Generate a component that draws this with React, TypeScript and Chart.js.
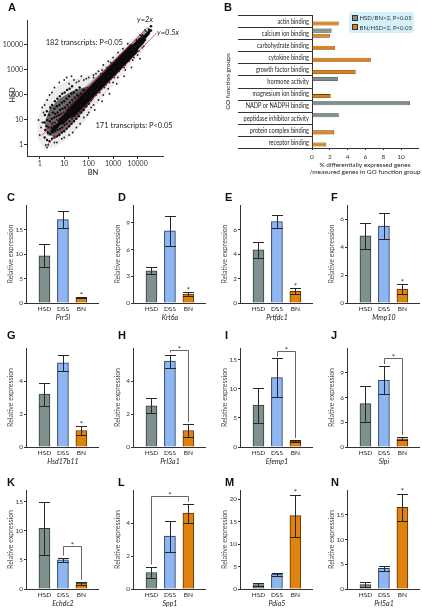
import React, { useEffect, useRef } from 'react';
import { Chart, registerables } from 'chart.js';

Chart.register(...registerables);

const FONT = "Lato, 'Liberation Sans', Arial, sans-serif";
const BOLD = "'Liberation Sans', Arial, sans-serif";

// ---------------- Panel A: scatter ----------------
// dense ridge of the cloud (BN, HSD) end points
const ridgeWide = [[20, 21], [6300, 6500]];
const ridgeMid = [[8, 9], [14000, 14500]];
const ridgeThin = [[3.2, 3.6], [28000, 30000]];
// envelopes of the point cloud, as [log10 BN, log10 HSD]
const haloEnvelopeLog = [
  [-0.1, 0.3], [0.15, -0.15], [0.6, -0.1], [1.2, 0.3], [1.8, 0.9], [2.4, 1.7], [3.0, 2.4], [3.6, 3.1],
  [4.1, 3.6], [4.45, 4.2], [4.55, 4.6], [4.45, 4.75], [4.1, 4.5], [3.6, 4.1], [3.0, 3.55], [2.4, 3.0],
  [1.8, 2.7], [1.2, 2.6], [0.6, 2.3], [0.15, 1.7], [-0.1, 1.0], [-0.1, 0.3],
];
const lobeEnvelopeLog = [
  [0.3, 0.4], [0.7, 0.3], [1.2, 0.7], [1.7, 1.25], [2.2, 1.85], [2.3, 2.4], [1.8, 2.3], [1.3, 2.15],
  [0.8, 1.85], [0.4, 1.45], [0.2, 0.9], [0.3, 0.4],
];
const bandEnvelopeLog = [
  [1.5, 1.1], [2.5, 2.15], [3.5, 3.2], [4.3, 4.1], [4.45, 4.45], [4.3, 4.6], [3.5, 3.85], [2.5, 2.9],
  [1.5, 2.0], [1.5, 1.1],
];
// individual transcripts, as [log10 BN, log10 HSD]
const cloudTipLog = [[4.38, 4.42], [4.44, 4.5], [4.5, 4.56], [4.47, 4.62], [4.55, 4.58], [4.55, 4.75], [4.3, 4.2], [4.2, 4.38]];
const cloudLobeLog = [
  [0.2, 0.3], [0.22, 0.6], [0.18, 0.9], [0.21, 1.2],
  [0.3, 0.2], [0.33, 0.5], [0.28, 0.75], [0.31, 1.0], [0.29, 1.35],
  [0.4, 0.15], [0.42, 0.45], [0.38, 0.7], [0.41, 0.95], [0.39, 1.2], [0.43, 1.5],
  [0.5, 0.25], [0.52, 0.5], [0.48, 0.7], [0.51, 0.85], [0.49, 1.05], [0.53, 1.3], [0.5, 1.6],
  [0.6, 0.3], [0.62, 0.55], [0.58, 0.75], [0.61, 0.9], [0.59, 1.1], [0.63, 1.25], [0.6, 1.45], [0.62, 1.75],
  [0.7, 0.35], [0.72, 0.6], [0.68, 0.8], [0.71, 1.0], [0.69, 1.15], [0.73, 1.3], [0.7, 1.55], [0.72, 1.85],
  [0.8, 0.4], [0.82, 0.65], [0.78, 0.85], [0.81, 1.05], [0.79, 1.2], [0.83, 1.4], [0.8, 1.6], [0.82, 1.95],
  [0.9, 0.5], [0.92, 0.7], [0.88, 0.9], [0.91, 1.1], [0.89, 1.25], [0.93, 1.45], [0.9, 1.7], [0.92, 2.05],
  [1.0, 0.55], [1.02, 0.8], [0.98, 0.95], [1.01, 1.15], [0.99, 1.3], [1.03, 1.5], [1.0, 1.75], [1.02, 2.1],
  [1.1, 0.65], [1.12, 0.85], [1.08, 1.05], [1.11, 1.2], [1.09, 1.4], [1.13, 1.6], [1.1, 1.85], [1.12, 2.2],
  [1.2, 0.75], [1.22, 0.95], [1.18, 1.1], [1.21, 1.3], [1.19, 1.5], [1.23, 1.7], [1.2, 1.95], [1.22, 2.25],
  [1.3, 0.85], [1.32, 1.05], [1.28, 1.2], [1.31, 1.4], [1.29, 1.6], [1.33, 1.8], [1.3, 2.05], [1.32, 2.35],
  [1.4, 0.95], [1.42, 1.15], [1.38, 1.3], [1.41, 1.5], [1.39, 1.7], [1.43, 1.9], [1.4, 2.1],
  [1.5, 1.05], [1.52, 1.25], [1.48, 1.4], [1.51, 1.6], [1.49, 1.8], [1.53, 2.0], [1.5, 2.2],
  [1.6, 1.15], [1.62, 1.35], [1.58, 1.55], [1.61, 1.75], [1.59, 1.95], [1.63, 2.3],
  [1.7, 1.3], [1.72, 1.45], [1.68, 1.65], [1.71, 1.85], [1.69, 2.05],
  [1.8, 1.4], [1.82, 1.6], [1.78, 1.8], [1.81, 2.0], [1.79, 2.2],
  [1.9, 1.55], [1.92, 1.7], [1.88, 1.9], [1.91, 2.1],
  [2.0, 1.65], [2.02, 1.85], [1.98, 2.25], [2.1, 1.8], [2.12, 2.35],
];
const cloudSparseLog = [
  [0.0, 0.4], [0.1, 0.9], [0.2, 1.6], [0.25, 0.0], [0.15, 1.3], [0.4, 2.0], [0.6, 2.3], [0.8, 2.5],
  [1.0, 2.6], [1.2, 2.45], [1.4, 2.6], [1.6, 2.55], [1.8, 2.6], [2.0, 2.7], [2.2, 2.8], [2.4, 2.95],
  [2.6, 3.2], [2.8, 3.35], [3.0, 3.5], [3.2, 3.7], [3.4, 3.85], [3.6, 4.05], [0.6, 0.1], [0.9, 0.25],
  [1.2, 0.4], [1.5, 0.7], [1.8, 1.1], [2.0, 1.3], [2.2, 1.6], [2.4, 1.8], [2.6, 2.0], [2.8, 2.25],
  [3.0, 2.5], [3.2, 2.7], [3.5, 3.0], [3.8, 3.4], [4.0, 3.6], [2.3, 2.0], [2.5, 2.85], [2.7, 2.4],
  [2.9, 3.3], [3.1, 2.8], [3.3, 3.6], [3.5, 3.2], [3.7, 4.0], [3.9, 3.65], [4.1, 4.4], [4.2, 3.9],
  [4.3, 4.6], [4.45, 4.6], [1.9, 2.65], [2.1, 1.5], [0.3, -0.1], [-0.05, 1.0],
  [2.2, 2.7], [2.3, 2.85], [2.45, 2.1], [2.55, 3.0], [2.65, 2.3], [2.75, 3.1], [2.85, 2.5], [2.95, 3.25],
  [3.05, 2.7], [3.15, 3.4], [3.25, 2.95], [3.35, 3.55], [3.45, 3.1], [3.55, 3.8], [3.65, 3.35], [3.75, 3.95],
  [3.85, 3.5], [3.95, 4.2], [4.05, 3.75], [4.15, 4.35], [4.25, 3.95], [4.35, 4.55], [1.1, 2.7], [1.3, 2.75],
  [1.5, 2.5], [1.7, 2.75], [0.5, 2.1], [0.3, 1.8], [0.1, 1.5], [0.05, 0.7], [0.35, 0.0], [0.7, 0.1],
  [1.0, 0.3], [1.35, 0.5], [1.65, 0.85], [1.95, 1.2], [2.25, 1.4], [2.55, 1.75], [2.85, 2.05], [3.15, 2.45],
  [3.45, 2.75], [3.75, 3.1], [4.1, 3.45], [2.35, 2.55], [2.6, 2.35], [2.9, 2.65], [3.3, 3.05], [3.6, 3.35],
];
const lineTwoX = [[1.2, 2.4], [26000, 52000]];
const lineHalfX = [[1.7, 0.85], [60000, 30000]];
const scatterTicks = [1, 10, 100, 1000, 10000];
const noteTexts = ['182 transcripts: P<0.05', '171 transcripts: P<0.05', 'y=2x', 'y=0.5x'];
const noteBN = [1.75, 190, 9600, 63000];
const noteHSD = [13000, 5.8, 100000, 30000];
const noteItalic = [false, false, true, true];

// ---------------- Panel B ----------------
const goGroups = [
  'actin binding', 'calcium ion binding', 'carbohydrate binding', 'cytokine binding',
  'growth factor binding', 'hormone activity', 'magnesium ion binding', 'NADP or NADPH binding',
  'peptidase inhibitor activity', 'protein complex binding', 'receptor binding',
];
const hsdOverBn = [null, 2.2, null, null, null, 2.9, null, 11.0, 3.0, null, null];
const bnOverHsd = [3.0, 2.0, 2.6, 6.6, 4.9, null, 2.1, null, null, 2.5, 1.6];
const goTicks = [0, 2, 4, 6, 8, 10];
const legendLabels = ['HSD/BN>2, P<0.05', 'BN/HSD>2, P<0.05'];

// ---------------- Panels C–N ----------------
const groups = ['HSD', 'DSS', 'BN'];
const panelLetters = ['C', 'D', 'E', 'F', 'G', 'H', 'I', 'J', 'K', 'L', 'M', 'N'];
const genes = ['Prr5l', 'Krt6a', 'Prtfdc1', 'Mmp10', 'Hsd17b11', 'Prl3a1', 'Efemp1', 'Slpi', 'Echdc2', 'Spp1', 'Pdia5', 'Prl5a1'];
const means = [
  [9.65, 17.0, 1.1], [3.6, 8.1, 1.0], [4.35, 6.65, 0.95], [4.8, 5.5, 1.0],
  [3.2, 5.1, 1.0], [2.5, 5.2, 1.0], [7.2, 11.9, 1.0], [5.25, 8.1, 1.0],
  [10.4, 5.0, 1.0], [1.0, 3.2, 4.6], [1.0, 3.3, 16.3], [0.9, 4.2, 16.5],
];
const errors = [
  [2.35, 1.7, 0.1], [0.4, 1.7, 0.2], [0.65, 0.55, 0.25], [0.92, 0.93, 0.33],
  [0.7, 0.5, 0.25], [0.45, 0.4, 0.4], [3.0, 3.3, 0.2], [2.2, 1.7, 0.2],
  [4.6, 0.4, 0.25], [0.36, 0.93, 0.57], [0.3, 0.35, 4.65], [0.55, 0.5, 2.7],
];
const yMax = [20, 11, 8, 7, 6, 6, 17, 12, 17, 6, 22, 20];
const yStep = [5, 3, 2, 2, 2, 2, 5, 3, 5, 2, 5, 5];
const starOnBN = [true, true, true, true, true, false, false, false, false, false, true, true];
const brackets = [null, null, null, null, null, [1, 2, 5.85], [1, 2, 16.5], [1, 2, 10.8], [1, 2, 7.3], [0, 2, 5.64], null, null];

// ---------------- styling / layout ----------------
const barFill = ['#7f918e', '#8db6f2', '#e0820f'];
const barEdge = ['#2f3b39', '#22365c', '#5b3300'];
const colLeft = [26, 133, 240, 347];
const rowTop = [205, 348, 490];
const rowH = [98, 99, 99];
const letterX = [7, 118, 225, 331];
const letterY = [193, 331, 478];

const fromLog = (arr: number[][]) => arr.map(([a, b]) => ({ x: Math.pow(10, a), y: Math.pow(10, b) }));
const fromPairs = (arr: number[][]) => arr.map(([a, b]) => ({ x: a, y: b }));

function ScatterPanel() {
  const ref = useRef<HTMLCanvasElement>(null);
  const W = 195, H = 182;
  useEffect(() => {
    const notes = {
      id: 'notesA',
      afterDraw(chart: any) {
        const { ctx, chartArea, scales } = chart;
        ctx.save();
        ctx.fillStyle = '#222';
        ctx.textBaseline = 'middle';
        ctx.textAlign = 'left';
        noteTexts.forEach((t, i) => {
          ctx.font = `${noteItalic[i] ? 'italic ' : ''}7.5px ${FONT}`;
          ctx.fillText(t, scales.x.getPixelForValue(noteBN[i]), scales.y.getPixelForValue(noteHSD[i]));
        });
        ctx.font = `7.5px ${FONT}`;
        ctx.textAlign = 'center';
        ctx.fillText('BN', scales.x.getPixelForValue(150), chartArea.bottom + 17);
        ctx.translate(13, scales.y.getPixelForValue(100));
        ctx.rotate(-Math.PI / 2);
        ctx.fillText('HSD', 0, 0);
        ctx.restore();
      },
    };
    const pts = (data: any, r: number, order: number, color: string) => ({
      data, pointRadius: r, pointBackgroundColor: color, pointBorderWidth: 0, showLine: false, order,
    });
    const ridge = (data: any, w: number) => ({
      data, showLine: true, pointRadius: 0, borderColor: '#0b0b0b', borderWidth: w, borderCapStyle: 'round', order: 2,
    });
    const envelope = (data: any, color: string, order: number) => ({
      data, showLine: true, pointRadius: 0, borderWidth: 0, borderColor: 'rgba(0,0,0,0)', backgroundColor: color, fill: 'shape', order,
    });
    const axis = (w: boolean) => ({
      type: 'logarithmic',
      afterBuildTicks: (s: any) => { s.ticks = scatterTicks.map((v) => ({ value: v })); },
      ticks: { callback: (v: any) => String(v), autoSkip: false, maxRotation: 0, padding: 1, color: '#333', font: { size: 7, family: FONT } },
      grid: { display: true, drawOnChartArea: false, drawTicks: true, tickLength: 3, color: '#333' },
      border: { color: '#333' },
      afterFit: (s: any) => { if (w) s.width = 27; else s.height = 26; },
    });
    const chart = new Chart(ref.current as HTMLCanvasElement, {
      type: 'scatter',
      data: {
        datasets: [
          { data: fromPairs(lineTwoX), showLine: true, pointRadius: 0, borderColor: 'rgba(205,45,65,0.95)', borderWidth: 0.8, order: 0 },
          { data: fromPairs(lineHalfX), showLine: true, pointRadius: 0, borderColor: 'rgba(205,45,65,0.95)', borderWidth: 0.8, order: 0 },
          ridge(fromPairs(ridgeWide), 11),
          ridge(fromPairs(ridgeMid), 7),
          ridge(fromPairs(ridgeThin), 3.5),
          pts(fromLog(cloudTipLog), 1.3, 3, '#111'),
          pts(fromLog(cloudLobeLog), 1.2, 4, '#0d0d0d'),
          pts(fromLog(cloudSparseLog), 0.9, 5, '#222'),
          envelope(fromLog(bandEnvelopeLog), 'rgba(0,0,0,0.32)', 7),
          envelope(fromLog(lobeEnvelopeLog), 'rgba(0,0,0,0.55)', 8),
          envelope(fromLog(haloEnvelopeLog), 'rgba(0,0,0,0.08)', 9),
        ] as any,
      },
      options: {
        responsive: false, animation: false, events: [],
        layout: { padding: { top: 20, right: W - 163, left: 0, bottom: 0 } },
        plugins: { legend: { display: false }, tooltip: { enabled: false } },
        scales: {
          x: { ...axis(false), min: 0.325, max: 110000 },
          y: { ...axis(true), min: 0.363, max: 100000 },
        } as any,
      },
      plugins: [notes],
    });
    return () => chart.destroy();
  }, []);
  return <canvas ref={ref} width={W} height={H} style={{ position: 'absolute', left: 0, top: 0, width: W, height: H }} />;
}

function GoPanel() {
  const ref = useRef<HTMLCanvasElement>(null);
  const W = 211, H = 180;
  useEffect(() => {
    const extras = {
      id: 'goExtras',
      afterDraw(chart: any) {
        const { ctx, chartArea, scales } = chart;
        const n = goGroups.length;
        ctx.save();
        ctx.strokeStyle = '#333';
        ctx.lineWidth = 1;
        ctx.beginPath();
        for (let i = 0; i <= n; i++) {
          const y = Math.round(chartArea.top + (i * (chartArea.bottom - chartArea.top)) / n) + 0.5;
          ctx.moveTo(27, y);
          ctx.lineTo(chartArea.left, y);
        }
        ctx.stroke();
        ctx.fillStyle = '#222';
        ctx.font = `7px ${FONT}`;
        ctx.textAlign = 'right';
        ctx.textBaseline = 'middle';
        goGroups.forEach((g, i) => {
          ctx.save();
          ctx.translate(chartArea.left - 3, scales.y.getPixelForValue(i) + 0.5);
          ctx.scale(0.8, 1);
          ctx.fillText(g, 0, 0);
          ctx.restore();
        });
        ctx.font = `6.5px ${FONT}`;
        ctx.textAlign = 'center';
        const cx = (chartArea.left + chartArea.right) / 2;
        ctx.fillText('% differentially expressed genes', cx, chartArea.bottom + 17);
        ctx.fillText('/measured genes in GO function group', cx, chartArea.bottom + 24);
        ctx.translate(17, (chartArea.top + chartArea.bottom) / 2);
        ctx.rotate(-Math.PI / 2);
        ctx.fillText('GO function groups', 0, 0);
        ctx.restore();
      },
    };
    const chart = new Chart(ref.current as HTMLCanvasElement, {
      type: 'bar',
      data: {
        labels: goGroups,
        datasets: [
          { label: legendLabels[0], data: hsdOverBn, backgroundColor: '#7f918e', borderColor: '#2f3b39', borderWidth: 0.8, borderSkipped: 'start' },
          { label: legendLabels[1], data: bnOverHsd, backgroundColor: '#e0820f', borderColor: '#6b3a00', borderWidth: 0.8, borderSkipped: 'start' },
        ] as any,
      },
      options: {
        indexAxis: 'y', responsive: false, animation: false, events: [],
        layout: { padding: { top: 15, right: 4, left: 0, bottom: 0 } },
        datasets: { bar: { categoryPercentage: 0.83, barPercentage: 0.8 } },
        plugins: { legend: { display: false }, tooltip: { enabled: false } },
        scales: {
          x: {
            type: 'linear', min: 0, max: 11.9,
            afterBuildTicks: (s: any) => { s.ticks = goTicks.map((v) => ({ value: v })); },
            ticks: { padding: 3, color: '#333', font: { size: 6.5, family: FONT } },
            grid: { display: true, drawOnChartArea: false, drawTicks: true, tickLength: 2, color: '#333' },
            border: { color: '#333' },
            afterFit: (s: any) => { s.height = H - 148; },
          },
          y: {
            type: 'category',
            ticks: { display: false },
            grid: { display: false },
            border: { color: '#333' },
            afterFit: (s: any) => { s.width = 101; },
          },
        } as any,
      },
      plugins: [extras],
    });
    return () => chart.destroy();
  }, []);
  return <canvas ref={ref} width={W} height={H} style={{ position: 'absolute', left: 211, top: 0, width: W, height: H }} />;
}

function panelPlugin(p: number) {
  return {
    id: 'panelExtras',
    afterDatasetsDraw(chart: any) {
      const { ctx, scales } = chart;
      const x = scales.x, y = scales.y;
      const topPx = (i: number) => y.getPixelForValue(means[p][i] + errors[p][i]);
      ctx.save();
      ctx.strokeStyle = '#262626';
      ctx.lineWidth = 1;
      ctx.beginPath();
      means[p].forEach((m, i) => {
        const e = errors[p][i];
        const cx = Math.round(x.getPixelForValue(i + 1)) + 0.5;
        const yt = Math.round(topPx(i)) + 0.5;
        const yb = Math.round(y.getPixelForValue(Math.max(0, m - e))) + 0.5;
        ctx.moveTo(cx, yt); ctx.lineTo(cx, yb);
        ctx.moveTo(cx - 5.5, yt); ctx.lineTo(cx + 5.5, yt);
        ctx.moveTo(cx - 5.5, yb); ctx.lineTo(cx + 5.5, yb);
      });
      ctx.stroke();
      ctx.fillStyle = '#333';
      ctx.font = `8px ${FONT}`;
      ctx.textAlign = 'center';
      ctx.textBaseline = 'alphabetic';
      if (starOnBN[p]) {
        ctx.fillText('*', x.getPixelForValue(3), topPx(2) + 0.5);
      }
      const b = brackets[p];
      if (b) {
        const [from, to, yv] = b;
        const yb = Math.round(y.getPixelForValue(yv)) + 0.5;
        const x1 = Math.round(x.getPixelForValue(from + 1)) + 0.5;
        const x2 = Math.round(x.getPixelForValue(to + 1)) + 0.5;
        ctx.strokeStyle = '#666';
        ctx.beginPath();
        ctx.moveTo(x1, topPx(from) - 2);
        ctx.lineTo(x1, yb);
        ctx.lineTo(x2, yb);
        ctx.lineTo(x2, topPx(to) - 2);
        ctx.stroke();
        ctx.fillText('*', (x1 + x2) / 2, yb + 1.5);
      }
      ctx.restore();
    },
    afterDraw(chart: any) {
      const { ctx, chartArea, scales } = chart;
      ctx.save();
      ctx.fillStyle = '#222';
      ctx.textAlign = 'center';
      ctx.textBaseline = 'middle';
      ctx.font = `italic 7px ${FONT}`;
      ctx.fillText(genes[p], scales.x.getPixelForValue(2), chartArea.bottom + 15);
      ctx.fillStyle = '#4a4a4a';
      ctx.font = `7px ${FONT}`;
      ctx.translate(chartArea.left - 15, (chartArea.top + chartArea.bottom) / 2);
      ctx.rotate(-Math.PI / 2);
      ctx.fillText('Relative expression', 0, 0);
      ctx.restore();
    },
  };
}

function BarPanel({ p }: { p: number }) {
  const ref = useRef<HTMLCanvasElement>(null);
  const col = p % 4, row = Math.floor(p / 4);
  const YW = 26, PT = 14, PW = 72, PR = 4, XH = 24;
  const PH = rowH[row];
  const W = YW + PW + PR, H = PT + PH + XH;
  useEffect(() => {
    const chart = new Chart(ref.current as HTMLCanvasElement, {
      type: 'bar',
      data: {
        datasets: [{
          data: groups.map((g, i) => ({ x: i + 1, y: means[p][i] })),
          backgroundColor: barFill, borderColor: barEdge, borderWidth: 1, barThickness: 11, borderSkipped: 'start',
        }] as any,
      },
      options: {
        responsive: false, animation: false, events: [],
        layout: { padding: { top: PT, right: PR, left: 0, bottom: 0 } },
        plugins: { legend: { display: false }, tooltip: { enabled: false } },
        scales: {
          x: {
            type: 'linear', min: 0, max: 3.9, offset: false,
            afterBuildTicks: (s: any) => { s.ticks = groups.map((g, i) => ({ value: i + 1 })); },
            ticks: { callback: (v: any) => groups[Math.round(v) - 1] ?? '', autoSkip: false, maxRotation: 0, padding: 2, color: '#222', font: { size: 6.5, family: FONT } },
            grid: { display: false, drawTicks: false },
            border: { color: '#333', width: 1 },
            afterFit: (s: any) => { s.height = XH; },
          },
          y: {
            type: 'linear', min: 0, max: yMax[p],
            afterBuildTicks: (s: any) => {
              const t: any[] = [];
              for (let v = 0; v < yMax[p] - 1e-6; v += yStep[p]) t.push({ value: v });
              s.ticks = t;
            },
            ticks: { padding: 1, color: '#333', font: { size: 6.5, family: FONT } },
            grid: { display: true, drawOnChartArea: false, drawTicks: true, tickLength: 2, color: '#333' },
            border: { color: '#333' },
            afterFit: (s: any) => { s.width = YW; },
          },
        } as any,
      },
      plugins: [panelPlugin(p)],
    });
    return () => chart.destroy();
  }, [p]);
  return <canvas ref={ref} width={W} height={H} style={{ position: 'absolute', left: colLeft[col] - YW, top: rowTop[row] - PT, width: W, height: H }} />;
}

function Letter({ ch, x, y }: { ch: string; x: number; y: number }) {
  return (
    <div style={{ position: 'absolute', left: x, top: y - 1.4, fontFamily: BOLD, fontWeight: 700, fontSize: 11, lineHeight: '11px', color: '#111' }}>{ch}</div>
  );
}

export default function App() {
  return (
    <div style={{ position: 'absolute', left: 0, top: 0, width: 422, height: 608, background: '#fff', overflow: 'hidden' }}>
      <ScatterPanel />
      <GoPanel />
      {panelLetters.map((ch, p) => <BarPanel key={ch} p={p} />)}
      <Letter ch="A" x={8} y={3} />
      <Letter ch="B" x={224} y={3} />
      {panelLetters.map((ch, p) => <Letter key={'L' + ch} ch={ch} x={letterX[p % 4]} y={letterY[Math.floor(p / 4)]} />)}
      <div style={{ position: 'absolute', left: 349, top: 12, width: 65, height: 21, background: '#d3f0fb', borderRadius: 3 }}>
        {legendLabels.map((t, i) => (
          <div key={t} style={{ position: 'absolute', left: 3, top: 1.5 + i * 9.5, height: 8, display: 'flex', alignItems: 'center', fontSize: 6, fontFamily: FONT, color: '#333', whiteSpace: 'nowrap' }}>
            <span style={{ display: 'inline-block', width: 4, height: 4, background: i ? '#e0820f' : '#7f918e', border: '0.8px solid #333', marginRight: 1.5 }} />
            {t}
          </div>
        ))}
      </div>
    </div>
  );
}
